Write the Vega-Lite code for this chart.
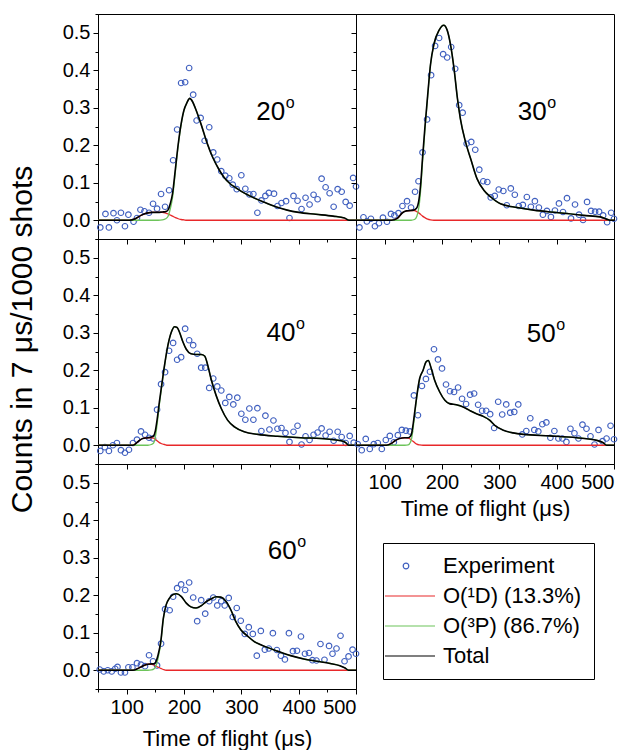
{
"$schema":"https://vega.github.io/schema/vega-lite/v6.json",
"padding":{"left":6,"top":13,"right":0,"bottom":0},
"autosize":{"type":"pad"},
"columns":2,"spacing":0,"bounds":"flush",
"resolve":{"scale":{"color":"shared","shape":"shared"}},
"config":{
 "view":{"stroke":"black","strokeWidth":1},
 "font":"Liberation Sans",
 "axis":{"domainColor":"black","tickColor":"black","labelColor":"black","titleColor":"black","labelFont":"Liberation Sans","titleFont":"Liberation Sans","labelFontSize":20,"titleFontSize":22,"titleFontWeight":"normal","grid":false,"labelPadding":3,"tickWidth":1},
 "legend":{"orient":"none","legendX":285,"legendY":529,"strokeColor":"black","padding":12,"labelFontSize":22,"labelFont":"Liberation Sans","labelColor":"black","labelOffset":26,"rowPadding":8,"symbolSize":400,"symbolOpacity":1,"symbolStrokeWidth":1.2,"labelLimit":0}
},
"datasets":{
"exp":[
{"a":20,"t":54,"v":-0.019},{"a":20,"t":63,"v":0.017},{"a":20,"t":69,"v":-0.019},{"a":20,"t":77,"v":0.019},{"a":20,"t":83,"v":0.0},{"a":20,"t":90,"v":0.02},{"a":20,"t":97,"v":-0.016},{"a":20,"t":103,"v":0.015},{"a":20,"t":112,"v":-0.004},{"a":20,"t":118,"v":0.006},{"a":20,"t":124,"v":0.028},{"a":20,"t":131,"v":0.024},{"a":20,"t":139,"v":0.02},{"a":20,"t":146,"v":0.044},{"a":20,"t":153,"v":0.031},{"a":20,"t":160,"v":0.07},{"a":20,"t":167,"v":0.036},{"a":20,"t":174,"v":0.08},{"a":20,"t":181,"v":0.16},{"a":20,"t":188,"v":0.242},{"a":20,"t":195,"v":0.366},{"a":20,"t":202,"v":0.368},{"a":20,"t":209,"v":0.406},{"a":20,"t":216,"v":0.335},{"a":20,"t":222,"v":0.266},{"a":20,"t":229,"v":0.273},{"a":20,"t":236,"v":0.212},{"a":20,"t":244,"v":0.248},{"a":20,"t":251,"v":0.181},{"a":20,"t":258,"v":0.162},{"a":20,"t":265,"v":0.131},{"a":20,"t":272,"v":0.119},{"a":20,"t":279,"v":0.112},{"a":20,"t":285,"v":0.095},{"a":20,"t":292,"v":0.083},{"a":20,"t":300,"v":0.12},{"a":20,"t":307,"v":0.084},{"a":20,"t":314,"v":0.069},{"a":20,"t":321,"v":0.07},{"a":20,"t":328,"v":0.02},{"a":20,"t":335,"v":0.053},{"a":20,"t":342,"v":0.065},{"a":20,"t":348,"v":0.073},{"a":20,"t":357,"v":0.071},{"a":20,"t":363,"v":0.038},{"a":20,"t":370,"v":0.046},{"a":20,"t":378,"v":0.051},{"a":20,"t":384,"v":0.006},{"a":20,"t":391,"v":0.065},{"a":20,"t":398,"v":0.052},{"a":20,"t":405,"v":0.03},{"a":20,"t":412,"v":0.06},{"a":20,"t":419,"v":0.042},{"a":20,"t":426,"v":0.068},{"a":20,"t":433,"v":0.056},{"a":20,"t":440,"v":0.111},{"a":20,"t":447,"v":0.088},{"a":20,"t":454,"v":0.072},{"a":20,"t":461,"v":0.036},{"a":20,"t":468,"v":0.083},{"a":20,"t":475,"v":0.076},{"a":20,"t":482,"v":0.049},{"a":20,"t":489,"v":0.039},{"a":20,"t":495,"v":0.113},{"a":20,"t":500,"v":0.09},
{"a":30,"t":56,"v":-0.019},{"a":30,"t":63,"v":0.008},{"a":30,"t":69,"v":-0.003},{"a":30,"t":76,"v":0.004},{"a":30,"t":83,"v":-0.016},{"a":30,"t":90,"v":-0.008},{"a":30,"t":97,"v":0.007},{"a":30,"t":104,"v":-0.004},{"a":30,"t":111,"v":0.017},{"a":30,"t":117,"v":0.013},{"a":30,"t":124,"v":0.019},{"a":30,"t":131,"v":0.038},{"a":30,"t":139,"v":0.051},{"a":30,"t":146,"v":0.034},{"a":30,"t":153,"v":0.076},{"a":30,"t":159,"v":0.104},{"a":30,"t":166,"v":0.181},{"a":30,"t":174,"v":0.269},{"a":30,"t":181,"v":0.387},{"a":30,"t":188,"v":0.465},{"a":30,"t":195,"v":0.486},{"a":30,"t":202,"v":0.443},{"a":30,"t":209,"v":0.434},{"a":30,"t":216,"v":0.462},{"a":30,"t":223,"v":0.404},{"a":30,"t":230,"v":0.307},{"a":30,"t":236,"v":0.287},{"a":30,"t":243,"v":0.204},{"a":30,"t":251,"v":0.209},{"a":30,"t":258,"v":0.188},{"a":30,"t":265,"v":0.135},{"a":30,"t":272,"v":0.104},{"a":30,"t":279,"v":0.102},{"a":30,"t":285,"v":0.061},{"a":30,"t":292,"v":0.065},{"a":30,"t":299,"v":0.082},{"a":30,"t":307,"v":0.078},{"a":30,"t":313,"v":0.04},{"a":30,"t":320,"v":0.085},{"a":30,"t":327,"v":0.068},{"a":30,"t":334,"v":0.038},{"a":30,"t":341,"v":0.041},{"a":30,"t":348,"v":0.062},{"a":30,"t":355,"v":0.036},{"a":30,"t":362,"v":0.051},{"a":30,"t":369,"v":0.034},{"a":30,"t":376,"v":0.015},{"a":30,"t":383,"v":0.025},{"a":30,"t":390,"v":0.009},{"a":30,"t":397,"v":0.026},{"a":30,"t":404,"v":0.045},{"a":30,"t":411,"v":0.022},{"a":30,"t":418,"v":0.059},{"a":30,"t":425,"v":0.005},{"a":30,"t":432,"v":0.042},{"a":30,"t":439,"v":0.015},{"a":30,"t":446,"v":0.001},{"a":30,"t":453,"v":0.049},{"a":30,"t":460,"v":0.025},{"a":30,"t":467,"v":0.023},{"a":30,"t":474,"v":0.023},{"a":30,"t":481,"v":0.013},{"a":30,"t":488,"v":-0.005},{"a":30,"t":495,"v":0.02},{"a":30,"t":500,"v":0.004},
{"a":40,"t":54,"v":-0.015},{"a":40,"t":62,"v":-0.005},{"a":40,"t":69,"v":-0.015},{"a":40,"t":76,"v":0.0},{"a":40,"t":83,"v":0.006},{"a":40,"t":90,"v":-0.013},{"a":40,"t":97,"v":-0.02},{"a":40,"t":104,"v":-0.012},{"a":40,"t":111,"v":0.006},{"a":40,"t":118,"v":0.015},{"a":40,"t":125,"v":0.037},{"a":40,"t":132,"v":0.028},{"a":40,"t":139,"v":0.02},{"a":40,"t":146,"v":0.018},{"a":40,"t":153,"v":0.095},{"a":40,"t":160,"v":0.163},{"a":40,"t":167,"v":0.195},{"a":40,"t":174,"v":0.252},{"a":40,"t":181,"v":0.273},{"a":40,"t":188,"v":0.228},{"a":40,"t":195,"v":0.235},{"a":40,"t":202,"v":0.311},{"a":40,"t":209,"v":0.28},{"a":40,"t":216,"v":0.267},{"a":40,"t":223,"v":0.244},{"a":40,"t":230,"v":0.207},{"a":40,"t":237,"v":0.207},{"a":40,"t":244,"v":0.153},{"a":40,"t":251,"v":0.178},{"a":40,"t":258,"v":0.157},{"a":40,"t":265,"v":0.146},{"a":40,"t":272,"v":0.113},{"a":40,"t":279,"v":0.129},{"a":40,"t":286,"v":0.109},{"a":40,"t":293,"v":0.127},{"a":40,"t":300,"v":0.084},{"a":40,"t":307,"v":0.068},{"a":40,"t":314,"v":0.098},{"a":40,"t":321,"v":0.068},{"a":40,"t":328,"v":0.099},{"a":40,"t":335,"v":0.038},{"a":40,"t":342,"v":0.079},{"a":40,"t":349,"v":0.042},{"a":40,"t":356,"v":0.066},{"a":40,"t":363,"v":0.044},{"a":40,"t":370,"v":0.046},{"a":40,"t":377,"v":0.033},{"a":40,"t":384,"v":0.009},{"a":40,"t":391,"v":0.036},{"a":40,"t":398,"v":0.052},{"a":40,"t":405,"v":0.002},{"a":40,"t":412,"v":0.024},{"a":40,"t":419,"v":0.014},{"a":40,"t":426,"v":0.028},{"a":40,"t":433,"v":0.034},{"a":40,"t":440,"v":0.045},{"a":40,"t":447,"v":0.026},{"a":40,"t":454,"v":0.036},{"a":40,"t":461,"v":0.012},{"a":40,"t":468,"v":0.036},{"a":40,"t":475,"v":0.022},{"a":40,"t":482,"v":0.006},{"a":40,"t":489,"v":0.025},{"a":40,"t":496,"v":0.007},
{"a":50,"t":53,"v":0.003},{"a":50,"t":60,"v":-0.013},{"a":50,"t":67,"v":0.017},{"a":50,"t":74,"v":-0.01},{"a":50,"t":81,"v":0.003},{"a":50,"t":88,"v":0.006},{"a":50,"t":95,"v":-0.01},{"a":50,"t":102,"v":0.014},{"a":50,"t":109,"v":0.025},{"a":50,"t":116,"v":0.008},{"a":50,"t":123,"v":0.027},{"a":50,"t":130,"v":0.041},{"a":50,"t":137,"v":0.039},{"a":50,"t":144,"v":0.037},{"a":50,"t":151,"v":0.133},{"a":50,"t":158,"v":0.08},{"a":50,"t":165,"v":0.158},{"a":50,"t":172,"v":0.177},{"a":50,"t":179,"v":0.196},{"a":50,"t":186,"v":0.256},{"a":50,"t":193,"v":0.229},{"a":50,"t":200,"v":0.205},{"a":50,"t":207,"v":0.162},{"a":50,"t":214,"v":0.144},{"a":50,"t":221,"v":0.142},{"a":50,"t":228,"v":0.154},{"a":50,"t":235,"v":0.124},{"a":50,"t":242,"v":0.11},{"a":50,"t":249,"v":0.135},{"a":50,"t":256,"v":0.138},{"a":50,"t":263,"v":0.108},{"a":50,"t":270,"v":0.092},{"a":50,"t":277,"v":0.092},{"a":50,"t":284,"v":0.083},{"a":50,"t":291,"v":0.046},{"a":50,"t":298,"v":0.116},{"a":50,"t":305,"v":0.082},{"a":50,"t":312,"v":0.109},{"a":50,"t":319,"v":0.087},{"a":50,"t":326,"v":0.089},{"a":50,"t":333,"v":0.109},{"a":50,"t":340,"v":0.029},{"a":50,"t":347,"v":0.038},{"a":50,"t":354,"v":0.072},{"a":50,"t":361,"v":0.041},{"a":50,"t":368,"v":0.037},{"a":50,"t":375,"v":0.056},{"a":50,"t":382,"v":0.061},{"a":50,"t":389,"v":0.02},{"a":50,"t":396,"v":0.038},{"a":50,"t":403,"v":0.018},{"a":50,"t":410,"v":0.018},{"a":50,"t":417,"v":0.009},{"a":50,"t":424,"v":0.044},{"a":50,"t":431,"v":0.032},{"a":50,"t":438,"v":0.018},{"a":50,"t":445,"v":0.055},{"a":50,"t":452,"v":0.044},{"a":50,"t":459,"v":0.024},{"a":50,"t":466,"v":0.002},{"a":50,"t":473,"v":0.041},{"a":50,"t":480,"v":0.011},{"a":50,"t":487,"v":0.018},{"a":50,"t":494,"v":0.052},{"a":50,"t":500,"v":0.016},
{"a":60,"t":53,"v":0.002},{"a":60,"t":60,"v":-0.003},{"a":60,"t":67,"v":0.0},{"a":60,"t":74,"v":-0.003},{"a":60,"t":80,"v":0.004},{"a":60,"t":84,"v":0.009},{"a":60,"t":90,"v":-0.006},{"a":60,"t":97,"v":-0.006},{"a":60,"t":103,"v":0.008},{"a":60,"t":110,"v":0.008},{"a":60,"t":118,"v":0.019},{"a":60,"t":125,"v":0.015},{"a":60,"t":132,"v":0.011},{"a":60,"t":139,"v":0.04},{"a":60,"t":146,"v":0.024},{"a":60,"t":153,"v":0.013},{"a":60,"t":160,"v":0.071},{"a":60,"t":167,"v":0.163},{"a":60,"t":175,"v":0.16},{"a":60,"t":181,"v":0.196},{"a":60,"t":188,"v":0.219},{"a":60,"t":195,"v":0.229},{"a":60,"t":202,"v":0.214},{"a":60,"t":209,"v":0.234},{"a":60,"t":216,"v":0.194},{"a":60,"t":223,"v":0.131},{"a":60,"t":230,"v":0.187},{"a":60,"t":237,"v":0.151},{"a":60,"t":244,"v":0.184},{"a":60,"t":251,"v":0.194},{"a":60,"t":258,"v":0.173},{"a":60,"t":265,"v":0.184},{"a":60,"t":271,"v":0.173},{"a":60,"t":278,"v":0.193},{"a":60,"t":285,"v":0.142},{"a":60,"t":292,"v":0.166},{"a":60,"t":299,"v":0.132},{"a":60,"t":306,"v":0.097},{"a":60,"t":313,"v":0.115},{"a":60,"t":320,"v":0.097},{"a":60,"t":327,"v":0.039},{"a":60,"t":334,"v":0.105},{"a":60,"t":341,"v":0.055},{"a":60,"t":348,"v":0.058},{"a":60,"t":355,"v":0.099},{"a":60,"t":362,"v":0.054},{"a":60,"t":369,"v":0.039},{"a":60,"t":376,"v":0.029},{"a":60,"t":383,"v":0.099},{"a":60,"t":390,"v":0.051},{"a":60,"t":397,"v":0.052},{"a":60,"t":404,"v":0.09},{"a":60,"t":411,"v":0.044},{"a":60,"t":418,"v":0.046},{"a":60,"t":424,"v":0.027},{"a":60,"t":431,"v":0.026},{"a":60,"t":438,"v":0.07},{"a":60,"t":445,"v":0.028},{"a":60,"t":453,"v":0.065},{"a":60,"t":459,"v":0.044},{"a":60,"t":466,"v":0.058},{"a":60,"t":473,"v":0.092},{"a":60,"t":480,"v":0.024},{"a":60,"t":487,"v":0.037},{"a":60,"t":494,"v":0.055},{"a":60,"t":500,"v":0.044}
],
"fit":[
{"a":20,"t":50,"D1":0,"P3":0,"Total":0},{"a":20,"t":105,"D1":0,"P3":0,"Total":0},{"a":20,"t":115,"D1":0.004,"P3":0,"Total":0.004},{"a":20,"t":125,"D1":0.013,"P3":0,"Total":0.013},{"a":20,"t":135,"D1":0.019,"P3":0,"Total":0.019},{"a":20,"t":145,"D1":0.021,"P3":0,"Total":0.021},{"a":20,"t":155,"D1":0.021,"P3":0,"Total":0.021},{"a":20,"t":162,"D1":0.021,"P3":0.001,"Total":0.022},{"a":20,"t":168,"D1":0.019,"P3":0.004,"Total":0.023},{"a":20,"t":172,"D1":0.017,"P3":0.01,"Total":0.027},{"a":20,"t":176,"D1":0.014,"P3":0.03,"Total":0.044},{"a":20,"t":180,"D1":0.011,"P3":0.06,"Total":0.071},{"a":20,"t":185,"D1":0.007,"P3":0.13,"Total":0.137},{"a":20,"t":190,"D1":0.004,"P3":0.2,"Total":0.204},{"a":20,"t":195,"D1":0.002,"P3":0.255,"Total":0.257},{"a":20,"t":200,"D1":0.001,"P3":0.293,"Total":0.294},{"a":20,"t":205,"D1":0,"P3":0.313,"Total":0.313},{"a":20,"t":210,"D1":0,"P3":0.325,"Total":0.325},{"a":20,"t":215,"D1":0,"P3":0.316,"Total":0.316},{"a":20,"t":220,"D1":0,"P3":0.298,"Total":0.298},{"a":20,"t":230,"D1":0,"P3":0.255,"Total":0.255},{"a":20,"t":240,"D1":0,"P3":0.207,"Total":0.207},{"a":20,"t":250,"D1":0,"P3":0.168,"Total":0.168},{"a":20,"t":260,"D1":0,"P3":0.138,"Total":0.138},{"a":20,"t":270,"D1":0,"P3":0.114,"Total":0.114},{"a":20,"t":280,"D1":0,"P3":0.098,"Total":0.098},{"a":20,"t":290,"D1":0,"P3":0.087,"Total":0.087},{"a":20,"t":300,"D1":0,"P3":0.077,"Total":0.077},{"a":20,"t":320,"D1":0,"P3":0.061,"Total":0.061},{"a":20,"t":340,"D1":0,"P3":0.048,"Total":0.048},{"a":20,"t":360,"D1":0,"P3":0.036,"Total":0.036},{"a":20,"t":380,"D1":0,"P3":0.027,"Total":0.027},{"a":20,"t":400,"D1":0,"P3":0.021,"Total":0.021},{"a":20,"t":430,"D1":0,"P3":0.016,"Total":0.016},{"a":20,"t":460,"D1":0,"P3":0.011,"Total":0.011},{"a":20,"t":480,"D1":0,"P3":0.006,"Total":0.006},{"a":20,"t":488,"D1":0,"P3":0,"Total":0},{"a":20,"t":500,"D1":0,"P3":0,"Total":0},
{"a":30,"t":50,"D1":0,"P3":0,"Total":0},{"a":30,"t":112,"D1":0,"P3":0,"Total":0},{"a":30,"t":122,"D1":0.005,"P3":0,"Total":0.005},{"a":30,"t":131,"D1":0.02,"P3":0,"Total":0.02},{"a":30,"t":138,"D1":0.025,"P3":0,"Total":0.025},{"a":30,"t":146,"D1":0.026,"P3":0,"Total":0.026},{"a":30,"t":152,"D1":0.026,"P3":0.002,"Total":0.028},{"a":30,"t":156,"D1":0.023,"P3":0.01,"Total":0.033},{"a":30,"t":160,"D1":0.019,"P3":0.038,"Total":0.057},{"a":30,"t":163,"D1":0.015,"P3":0.085,"Total":0.1},{"a":30,"t":166,"D1":0.011,"P3":0.154,"Total":0.165},{"a":30,"t":170,"D1":0.007,"P3":0.237,"Total":0.244},{"a":30,"t":175,"D1":0.003,"P3":0.33,"Total":0.333},{"a":30,"t":180,"D1":0.001,"P3":0.415,"Total":0.416},{"a":30,"t":186,"D1":0,"P3":0.47,"Total":0.47},{"a":30,"t":195,"D1":0,"P3":0.507,"Total":0.507},{"a":30,"t":203,"D1":0,"P3":0.52,"Total":0.52},{"a":30,"t":209,"D1":0,"P3":0.507,"Total":0.507},{"a":30,"t":215,"D1":0,"P3":0.467,"Total":0.467},{"a":30,"t":221,"D1":0,"P3":0.404,"Total":0.404},{"a":30,"t":227,"D1":0,"P3":0.324,"Total":0.324},{"a":30,"t":232,"D1":0,"P3":0.271,"Total":0.271},{"a":30,"t":241,"D1":0,"P3":0.209,"Total":0.209},{"a":30,"t":250,"D1":0,"P3":0.164,"Total":0.164},{"a":30,"t":261,"D1":0,"P3":0.111,"Total":0.111},{"a":30,"t":273,"D1":0,"P3":0.08,"Total":0.08},{"a":30,"t":285,"D1":0,"P3":0.062,"Total":0.062},{"a":30,"t":302,"D1":0,"P3":0.044,"Total":0.044},{"a":30,"t":331,"D1":0,"P3":0.034,"Total":0.034},{"a":30,"t":360,"D1":0,"P3":0.027,"Total":0.027},{"a":30,"t":389,"D1":0,"P3":0.022,"Total":0.022},{"a":30,"t":418,"D1":0,"P3":0.018,"Total":0.018},{"a":30,"t":447,"D1":0,"P3":0.013,"Total":0.013},{"a":30,"t":476,"D1":0,"P3":0.009,"Total":0.009},{"a":30,"t":487,"D1":0,"P3":0.003,"Total":0.003},{"a":30,"t":493,"D1":0,"P3":0,"Total":0},{"a":30,"t":500,"D1":0,"P3":0,"Total":0},
{"a":40,"t":50,"D1":0,"P3":0,"Total":0},{"a":40,"t":111,"D1":0,"P3":0,"Total":0},{"a":40,"t":120,"D1":0.01,"P3":0,"Total":0.01},{"a":40,"t":128,"D1":0.018,"P3":0,"Total":0.018},{"a":40,"t":137,"D1":0.02,"P3":0,"Total":0.02},{"a":40,"t":143,"D1":0.02,"P3":0.002,"Total":0.022},{"a":40,"t":147,"D1":0.019,"P3":0.006,"Total":0.025},{"a":40,"t":150,"D1":0.016,"P3":0.022,"Total":0.038},{"a":40,"t":153,"D1":0.012,"P3":0.055,"Total":0.067},{"a":40,"t":157,"D1":0.007,"P3":0.108,"Total":0.115},{"a":40,"t":161,"D1":0.004,"P3":0.155,"Total":0.159},{"a":40,"t":166,"D1":0.002,"P3":0.211,"Total":0.213},{"a":40,"t":172,"D1":0,"P3":0.267,"Total":0.267},{"a":40,"t":178,"D1":0,"P3":0.302,"Total":0.302},{"a":40,"t":183.5,"D1":0,"P3":0.316,"Total":0.316},{"a":40,"t":188,"D1":0,"P3":0.314,"Total":0.314},{"a":40,"t":192,"D1":0,"P3":0.302,"Total":0.302},{"a":40,"t":198,"D1":0,"P3":0.276,"Total":0.276},{"a":40,"t":204,"D1":0,"P3":0.256,"Total":0.256},{"a":40,"t":212,"D1":0,"P3":0.244,"Total":0.244},{"a":40,"t":221,"D1":0,"P3":0.242,"Total":0.242},{"a":40,"t":230,"D1":0,"P3":0.242,"Total":0.242},{"a":40,"t":236,"D1":0,"P3":0.238,"Total":0.238},{"a":40,"t":241.5,"D1":0,"P3":0.213,"Total":0.213},{"a":40,"t":247,"D1":0,"P3":0.178,"Total":0.178},{"a":40,"t":256,"D1":0,"P3":0.133,"Total":0.133},{"a":40,"t":265,"D1":0,"P3":0.098,"Total":0.098},{"a":40,"t":276,"D1":0,"P3":0.067,"Total":0.067},{"a":40,"t":288,"D1":0,"P3":0.049,"Total":0.049},{"a":40,"t":305,"D1":0,"P3":0.036,"Total":0.036},{"a":40,"t":329,"D1":0,"P3":0.029,"Total":0.029},{"a":40,"t":363,"D1":0,"P3":0.024,"Total":0.024},{"a":40,"t":404,"D1":0,"P3":0.02,"Total":0.02},{"a":40,"t":439,"D1":0,"P3":0.018,"Total":0.018},{"a":40,"t":474,"D1":0,"P3":0.012,"Total":0.012},{"a":40,"t":482,"D1":0,"P3":0.007,"Total":0.007},{"a":40,"t":487,"D1":0,"P3":0,"Total":0},{"a":40,"t":500,"D1":0,"P3":0,"Total":0},
{"a":50,"t":50,"D1":0,"P3":0,"Total":0},{"a":50,"t":103,"D1":0,"P3":0,"Total":0},{"a":50,"t":112,"D1":0.005,"P3":0,"Total":0.005},{"a":50,"t":118,"D1":0.012,"P3":0,"Total":0.012},{"a":50,"t":126,"D1":0.018,"P3":0,"Total":0.018},{"a":50,"t":135,"D1":0.02,"P3":0,"Total":0.02},{"a":50,"t":141,"D1":0.019,"P3":0.001,"Total":0.02},{"a":50,"t":145,"D1":0.016,"P3":0.008,"Total":0.024},{"a":50,"t":147,"D1":0.013,"P3":0.018,"Total":0.031},{"a":50,"t":150,"D1":0.01,"P3":0.05,"Total":0.06},{"a":50,"t":153,"D1":0.006,"P3":0.09,"Total":0.096},{"a":50,"t":156,"D1":0.003,"P3":0.128,"Total":0.131},{"a":50,"t":161,"D1":0.001,"P3":0.177,"Total":0.178},{"a":50,"t":167,"D1":0,"P3":0.2,"Total":0.2},{"a":50,"t":172,"D1":0,"P3":0.222,"Total":0.222},{"a":50,"t":176,"D1":0,"P3":0.226,"Total":0.226},{"a":50,"t":181,"D1":0,"P3":0.206,"Total":0.206},{"a":50,"t":187,"D1":0,"P3":0.174,"Total":0.174},{"a":50,"t":196,"D1":0,"P3":0.142,"Total":0.142},{"a":50,"t":205,"D1":0,"P3":0.12,"Total":0.12},{"a":50,"t":213,"D1":0,"P3":0.111,"Total":0.111},{"a":50,"t":225,"D1":0,"P3":0.108,"Total":0.108},{"a":50,"t":237,"D1":0,"P3":0.102,"Total":0.102},{"a":50,"t":248,"D1":0,"P3":0.093,"Total":0.093},{"a":50,"t":260,"D1":0,"P3":0.084,"Total":0.084},{"a":50,"t":272,"D1":0,"P3":0.077,"Total":0.077},{"a":50,"t":283,"D1":0,"P3":0.067,"Total":0.067},{"a":50,"t":292,"D1":0,"P3":0.053,"Total":0.053},{"a":50,"t":307,"D1":0,"P3":0.04,"Total":0.04},{"a":50,"t":324,"D1":0,"P3":0.033,"Total":0.033},{"a":50,"t":342,"D1":0,"P3":0.029,"Total":0.029},{"a":50,"t":388,"D1":0,"P3":0.025,"Total":0.025},{"a":50,"t":435,"D1":0,"P3":0.02,"Total":0.02},{"a":50,"t":470,"D1":0,"P3":0.013,"Total":0.013},{"a":50,"t":481,"D1":0,"P3":0.007,"Total":0.007},{"a":50,"t":487,"D1":0,"P3":0,"Total":0},{"a":50,"t":500,"D1":0,"P3":0,"Total":0},
{"a":60,"t":50,"D1":0,"P3":0,"Total":0},{"a":60,"t":111,"D1":0,"P3":0,"Total":0},{"a":60,"t":120,"D1":0.005,"P3":0,"Total":0.005},{"a":60,"t":129,"D1":0.012,"P3":0,"Total":0.012},{"a":60,"t":137,"D1":0.016,"P3":0,"Total":0.016},{"a":60,"t":143,"D1":0.016,"P3":0.001,"Total":0.017},{"a":60,"t":147,"D1":0.014,"P3":0.003,"Total":0.017},{"a":60,"t":150,"D1":0.012,"P3":0.008,"Total":0.02},{"a":60,"t":155,"D1":0.008,"P3":0.034,"Total":0.042},{"a":60,"t":159.5,"D1":0.005,"P3":0.072,"Total":0.077},{"a":60,"t":164,"D1":0.002,"P3":0.137,"Total":0.139},{"a":60,"t":169,"D1":0,"P3":0.175,"Total":0.175},{"a":60,"t":175,"D1":0,"P3":0.193,"Total":0.193},{"a":60,"t":181,"D1":0,"P3":0.202,"Total":0.202},{"a":60,"t":187,"D1":0,"P3":0.204,"Total":0.204},{"a":60,"t":195,"D1":0,"P3":0.197,"Total":0.197},{"a":60,"t":204,"D1":0,"P3":0.179,"Total":0.179},{"a":60,"t":212,"D1":0,"P3":0.169,"Total":0.169},{"a":60,"t":221,"D1":0,"P3":0.166,"Total":0.166},{"a":60,"t":230,"D1":0,"P3":0.172,"Total":0.172},{"a":60,"t":238,"D1":0,"P3":0.182,"Total":0.182},{"a":60,"t":247,"D1":0,"P3":0.19,"Total":0.19},{"a":60,"t":256,"D1":0,"P3":0.196,"Total":0.196},{"a":60,"t":264,"D1":0,"P3":0.195,"Total":0.195},{"a":60,"t":273,"D1":0,"P3":0.184,"Total":0.184},{"a":60,"t":282,"D1":0,"P3":0.16,"Total":0.16},{"a":60,"t":290,"D1":0,"P3":0.131,"Total":0.131},{"a":60,"t":299,"D1":0,"P3":0.108,"Total":0.108},{"a":60,"t":311,"D1":0,"P3":0.091,"Total":0.091},{"a":60,"t":322,"D1":0,"P3":0.077,"Total":0.077},{"a":60,"t":334,"D1":0,"P3":0.068,"Total":0.068},{"a":60,"t":345,"D1":0,"P3":0.061,"Total":0.061},{"a":60,"t":363,"D1":0,"P3":0.051,"Total":0.051},{"a":60,"t":386,"D1":0,"P3":0.039,"Total":0.039},{"a":60,"t":409,"D1":0,"P3":0.03,"Total":0.03},{"a":60,"t":432,"D1":0,"P3":0.024,"Total":0.024},{"a":60,"t":455,"D1":0,"P3":0.018,"Total":0.018},{"a":60,"t":472,"D1":0,"P3":0.012,"Total":0.012},{"a":60,"t":481,"D1":0,"P3":0.006,"Total":0.006},{"a":60,"t":487,"D1":0,"P3":0,"Total":0},{"a":60,"t":500,"D1":0,"P3":0,"Total":0}
],
"lab":[
{"a":20,"t":326,"v":0.267,"txt":"20"},{"a":30,"t":332,"v":0.267,"txt":"30"},{"a":40,"t":344,"v":0.277,"txt":"40"},{"a":50,"t":348,"v":0.275,"txt":"50"},{"a":60,"t":346,"v":0.298,"txt":"60"}
]
},
"concat":[
{"width":258,"height":225,
 "encoding":{
  "x":{"field":"t","type":"quantitative","scale":{"domain":[50,500],"nice":false,"zero":false},"axis":{"values":[50,100,150,200,250,300,350,400,450,500],"labels":false,"title":null,"tickSize":{"condition":{"test":"datum.value % 100 === 0","value":5},"value":3}}},
  "y":{"field":"v","type":"quantitative","scale":{"domain":[-0.05,0.55],"nice":false,"zero":false},"axis":{"values":[-0.05,0,0.05,0.1,0.15,0.2,0.25,0.3,0.35,0.4,0.45,0.5,0.55],"labelExpr":"abs(datum.value*10 - round(datum.value*10)) < 0.001 && datum.value > -0.01 && datum.value < 0.51 ? format(datum.value, '.1f') : ''","title":null,"tickSize":{"condition":{"test":"abs(datum.value*10 - round(datum.value*10)) < 0.001","value":5},"value":3}}}
 },
 "layer":[
  {"data":{"name":"exp"},"transform":[{"filter":"datum.a == 20"}],"mark":{"type":"point","filled":false,"strokeWidth":1.1,"opacity":1,"size":400},
   "encoding":{"color":{"datum":"Experiment","type":"nominal","title":null,"scale":{"domain":["Experiment","D1","P3","Total"],"range":["#3f5fbf","#e8282a","#6dc45a","#000000"]},"legend":{"labelExpr":"datum.label == 'D1' ? 'O(¹D) (13.3%)' : datum.label == 'P3' ? 'O(³P) (86.7%)' : datum.label"}},
    "shape":{"datum":"Experiment","type":"nominal","title":null,"scale":{"domain":["Experiment","D1","P3","Total"],"range":["M-0.28,0A0.28,0.28 0 1,0 0.28,0A0.28,0.28 0 1,0 -0.28,0Z","M-2.1,0H2.9","M-2.1,0H2.9","M-2.1,0H2.9"]}}}},
  {"data":{"name":"fit"},"transform":[{"filter":"datum.a == 20"},{"fold":["D1","P3","Total"],"as":["s","v"]}],"mark":{"type":"line","interpolate":"monotone"},
   "encoding":{"color":{"field":"s","type":"nominal","title":null},"strokeWidth":{"condition":{"test":"datum.s == 'Total'","value":1.6},"value":1.3}}},
  {"data":{"name":"lab"},"transform":[{"filter":"datum.a == 20"}],"mark":{"type":"text","fontSize":26,"align":"left","baseline":"alphabetic","color":"black"},"encoding":{"text":{"field":"txt"}}},
  {"data":{"name":"lab"},"transform":[{"filter":"datum.a == 20"}],"mark":{"type":"text","fontSize":16,"align":"left","baseline":"alphabetic","color":"black","dx":29.5,"dy":-12,"text":"o"}}
 ]},
{"width":258,"height":225,
 "encoding":{
  "x":{"field":"t","type":"quantitative","scale":{"domain":[50,500],"nice":false,"zero":false},"axis":{"values":[50,100,150,200,250,300,350,400,450,500],"labels":false,"title":null,"tickSize":{"condition":{"test":"datum.value % 100 === 0","value":5},"value":3}}},
  "y":{"field":"v","type":"quantitative","scale":{"domain":[-0.05,0.55],"nice":false,"zero":false},"axis":{"values":[-0.05,0,0.05,0.1,0.15,0.2,0.25,0.3,0.35,0.4,0.45,0.5,0.55],"labels":false,"title":null,"tickSize":{"condition":{"test":"abs(datum.value*10 - round(datum.value*10)) < 0.001","value":5},"value":3}}}
 },
 "layer":[
  {"data":{"name":"exp"},"transform":[{"filter":"datum.a == 30"}],"mark":{"type":"point","filled":false,"strokeWidth":1.1,"opacity":1,"size":400},
   "encoding":{"color":{"datum":"Experiment","type":"nominal","title":null,"scale":{"domain":["Experiment","D1","P3","Total"],"range":["#3f5fbf","#e8282a","#6dc45a","#000000"]},"legend":{"labelExpr":"datum.label == 'D1' ? 'O(¹D) (13.3%)' : datum.label == 'P3' ? 'O(³P) (86.7%)' : datum.label"}},
    "shape":{"datum":"Experiment","type":"nominal","title":null,"scale":{"domain":["Experiment","D1","P3","Total"],"range":["M-0.28,0A0.28,0.28 0 1,0 0.28,0A0.28,0.28 0 1,0 -0.28,0Z","M-2.1,0H2.9","M-2.1,0H2.9","M-2.1,0H2.9"]}}}},
  {"data":{"name":"fit"},"transform":[{"filter":"datum.a == 30"},{"fold":["D1","P3","Total"],"as":["s","v"]}],"mark":{"type":"line","interpolate":"monotone"},
   "encoding":{"color":{"field":"s","type":"nominal","title":null},"strokeWidth":{"condition":{"test":"datum.s == 'Total'","value":1.6},"value":1.3}}},
  {"data":{"name":"lab"},"transform":[{"filter":"datum.a == 30"}],"mark":{"type":"text","fontSize":26,"align":"left","baseline":"alphabetic","color":"black"},"encoding":{"text":{"field":"txt"}}},
  {"data":{"name":"lab"},"transform":[{"filter":"datum.a == 30"}],"mark":{"type":"text","fontSize":16,"align":"left","baseline":"alphabetic","color":"black","dx":29.5,"dy":-12,"text":"o"}}
 ]},
{"width":258,"height":225,
 "encoding":{
  "x":{"field":"t","type":"quantitative","scale":{"domain":[50,500],"nice":false,"zero":false},"axis":{"values":[50,100,150,200,250,300,350,400,450,500],"labels":false,"title":null,"tickSize":{"condition":{"test":"datum.value % 100 === 0","value":5},"value":3}}},
  "y":{"field":"v","type":"quantitative","scale":{"domain":[-0.05,0.55],"nice":false,"zero":false},"axis":{"values":[-0.05,0,0.05,0.1,0.15,0.2,0.25,0.3,0.35,0.4,0.45,0.5,0.55],"labelExpr":"abs(datum.value*10 - round(datum.value*10)) < 0.001 && datum.value > -0.01 && datum.value < 0.51 ? format(datum.value, '.1f') : ''","title":"Counts in 7 μs/1000 shots","titleFontSize":30,"titlePadding":25,"titleY":100,"tickSize":{"condition":{"test":"abs(datum.value*10 - round(datum.value*10)) < 0.001","value":5},"value":3}}}
 },
 "layer":[
  {"data":{"name":"exp"},"transform":[{"filter":"datum.a == 40"}],"mark":{"type":"point","filled":false,"strokeWidth":1.1,"opacity":1,"size":400},
   "encoding":{"color":{"datum":"Experiment","type":"nominal","title":null,"scale":{"domain":["Experiment","D1","P3","Total"],"range":["#3f5fbf","#e8282a","#6dc45a","#000000"]},"legend":{"labelExpr":"datum.label == 'D1' ? 'O(¹D) (13.3%)' : datum.label == 'P3' ? 'O(³P) (86.7%)' : datum.label"}},
    "shape":{"datum":"Experiment","type":"nominal","title":null,"scale":{"domain":["Experiment","D1","P3","Total"],"range":["M-0.28,0A0.28,0.28 0 1,0 0.28,0A0.28,0.28 0 1,0 -0.28,0Z","M-2.1,0H2.9","M-2.1,0H2.9","M-2.1,0H2.9"]}}}},
  {"data":{"name":"fit"},"transform":[{"filter":"datum.a == 40"},{"fold":["D1","P3","Total"],"as":["s","v"]}],"mark":{"type":"line","interpolate":"monotone"},
   "encoding":{"color":{"field":"s","type":"nominal","title":null},"strokeWidth":{"condition":{"test":"datum.s == 'Total'","value":1.6},"value":1.3}}},
  {"data":{"name":"lab"},"transform":[{"filter":"datum.a == 40"}],"mark":{"type":"text","fontSize":26,"align":"left","baseline":"alphabetic","color":"black"},"encoding":{"text":{"field":"txt"}}},
  {"data":{"name":"lab"},"transform":[{"filter":"datum.a == 40"}],"mark":{"type":"text","fontSize":16,"align":"left","baseline":"alphabetic","color":"black","dx":29.5,"dy":-12,"text":"o"}}
 ]},
{"width":258,"height":225,
 "encoding":{
  "x":{"field":"t","type":"quantitative","scale":{"domain":[50,500],"nice":false,"zero":false},"axis":{"values":[50,100,150,200,250,300,350,400,450,500],"labelExpr":"datum.value % 100 === 0 ? datum.label : ''","title":"Time of flight (μs)","titlePadding":6,"tickSize":{"condition":{"test":"datum.value % 100 === 0","value":5},"value":3}}},
  "y":{"field":"v","type":"quantitative","scale":{"domain":[-0.05,0.55],"nice":false,"zero":false},"axis":{"values":[-0.05,0,0.05,0.1,0.15,0.2,0.25,0.3,0.35,0.4,0.45,0.5,0.55],"labels":false,"title":null,"tickSize":{"condition":{"test":"abs(datum.value*10 - round(datum.value*10)) < 0.001","value":5},"value":3}}}
 },
 "layer":[
  {"data":{"name":"exp"},"transform":[{"filter":"datum.a == 50"}],"mark":{"type":"point","filled":false,"strokeWidth":1.1,"opacity":1,"size":400},
   "encoding":{"color":{"datum":"Experiment","type":"nominal","title":null,"scale":{"domain":["Experiment","D1","P3","Total"],"range":["#3f5fbf","#e8282a","#6dc45a","#000000"]},"legend":{"labelExpr":"datum.label == 'D1' ? 'O(¹D) (13.3%)' : datum.label == 'P3' ? 'O(³P) (86.7%)' : datum.label"}},
    "shape":{"datum":"Experiment","type":"nominal","title":null,"scale":{"domain":["Experiment","D1","P3","Total"],"range":["M-0.28,0A0.28,0.28 0 1,0 0.28,0A0.28,0.28 0 1,0 -0.28,0Z","M-2.1,0H2.9","M-2.1,0H2.9","M-2.1,0H2.9"]}}}},
  {"data":{"name":"fit"},"transform":[{"filter":"datum.a == 50"},{"fold":["D1","P3","Total"],"as":["s","v"]}],"mark":{"type":"line","interpolate":"monotone"},
   "encoding":{"color":{"field":"s","type":"nominal","title":null},"strokeWidth":{"condition":{"test":"datum.s == 'Total'","value":1.6},"value":1.3}}},
  {"data":{"name":"lab"},"transform":[{"filter":"datum.a == 50"}],"mark":{"type":"text","fontSize":26,"align":"left","baseline":"alphabetic","color":"black"},"encoding":{"text":{"field":"txt"}}},
  {"data":{"name":"lab"},"transform":[{"filter":"datum.a == 50"}],"mark":{"type":"text","fontSize":16,"align":"left","baseline":"alphabetic","color":"black","dx":29.5,"dy":-12,"text":"o"}}
 ]},
{"width":258,"height":225,
 "encoding":{
  "x":{"field":"t","type":"quantitative","scale":{"domain":[50,500],"nice":false,"zero":false},"axis":{"values":[50,100,150,200,250,300,350,400,450,500],"labelExpr":"datum.value % 100 === 0 ? datum.label : ''","title":"Time of flight (μs)","titlePadding":11,"tickSize":{"condition":{"test":"datum.value % 100 === 0","value":5},"value":3}}},
  "y":{"field":"v","type":"quantitative","scale":{"domain":[-0.05,0.55],"nice":false,"zero":false},"axis":{"values":[-0.05,0,0.05,0.1,0.15,0.2,0.25,0.3,0.35,0.4,0.45,0.5,0.55],"labelExpr":"abs(datum.value*10 - round(datum.value*10)) < 0.001 && datum.value > -0.01 && datum.value < 0.51 ? format(datum.value, '.1f') : ''","title":null,"tickSize":{"condition":{"test":"abs(datum.value*10 - round(datum.value*10)) < 0.001","value":5},"value":3}}}
 },
 "layer":[
  {"data":{"name":"exp"},"transform":[{"filter":"datum.a == 60"}],"mark":{"type":"point","filled":false,"strokeWidth":1.1,"opacity":1,"size":400},
   "encoding":{"color":{"datum":"Experiment","type":"nominal","title":null,"scale":{"domain":["Experiment","D1","P3","Total"],"range":["#3f5fbf","#e8282a","#6dc45a","#000000"]},"legend":{"labelExpr":"datum.label == 'D1' ? 'O(¹D) (13.3%)' : datum.label == 'P3' ? 'O(³P) (86.7%)' : datum.label"}},
    "shape":{"datum":"Experiment","type":"nominal","title":null,"scale":{"domain":["Experiment","D1","P3","Total"],"range":["M-0.28,0A0.28,0.28 0 1,0 0.28,0A0.28,0.28 0 1,0 -0.28,0Z","M-2.1,0H2.9","M-2.1,0H2.9","M-2.1,0H2.9"]}}}},
  {"data":{"name":"fit"},"transform":[{"filter":"datum.a == 60"},{"fold":["D1","P3","Total"],"as":["s","v"]}],"mark":{"type":"line","interpolate":"monotone"},
   "encoding":{"color":{"field":"s","type":"nominal","title":null},"strokeWidth":{"condition":{"test":"datum.s == 'Total'","value":1.6},"value":1.3}}},
  {"data":{"name":"lab"},"transform":[{"filter":"datum.a == 60"}],"mark":{"type":"text","fontSize":26,"align":"left","baseline":"alphabetic","color":"black"},"encoding":{"text":{"field":"txt"}}},
  {"data":{"name":"lab"},"transform":[{"filter":"datum.a == 60"}],"mark":{"type":"text","fontSize":16,"align":"left","baseline":"alphabetic","color":"black","dx":29.5,"dy":-12,"text":"o"}}
 ]}
]
}
